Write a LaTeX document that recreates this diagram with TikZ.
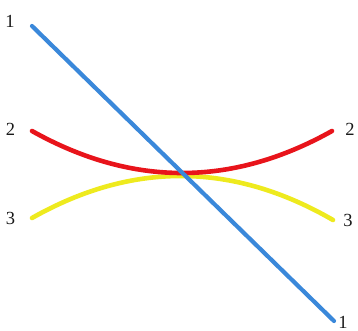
\documentclass[tikz,border=0pt]{standalone}
\usepackage{fontspec}
\setmainfont{Liberation Serif}
\definecolor{lineblue}{HTML}{3A88DA}
\definecolor{linered}{HTML}{E8141B}
\definecolor{lineyellow}{HTML}{EEEA1E}
\begin{document}
\begin{tikzpicture}[x=1pt,y=-1pt,
  curve/.style={line width=4.6pt,line cap=round},
  lbl/.style={inner sep=0pt,font=\fontsize{18.5}{21}\selectfont,text=black!90}]
\useasboundingbox (0,0) rectangle (358,331);
% end points
\coordinate (b1) at (32,26);
\coordinate (b2) at (334,321);
\coordinate (r1) at (32,131);
\coordinate (r2) at (332,131);
\coordinate (y1) at (32,218);
\coordinate (y2) at (333,220);
% curves
\draw[curve,lineyellow] (y1) .. controls (132.3,161.3) and (232.7,162) .. (y2);
\draw[curve,linered] (r1) .. controls (132,187) and (232,187) .. (r2);
\draw[curve,lineblue,line width=4.2pt] (b1) -- (b2);
% labels
\node[lbl] (l1a) at (10,21) {1};
\node[lbl] (l2a) at (10.5,129) {2};
\node[lbl] (l3a) at (10.5,218) {3};
\node[lbl] (l2b) at (350,129) {2};
\node[lbl] (l3b) at (348,220) {3};
\node[lbl] (l1b) at (343,322) {1};
\end{tikzpicture}
\end{document}
